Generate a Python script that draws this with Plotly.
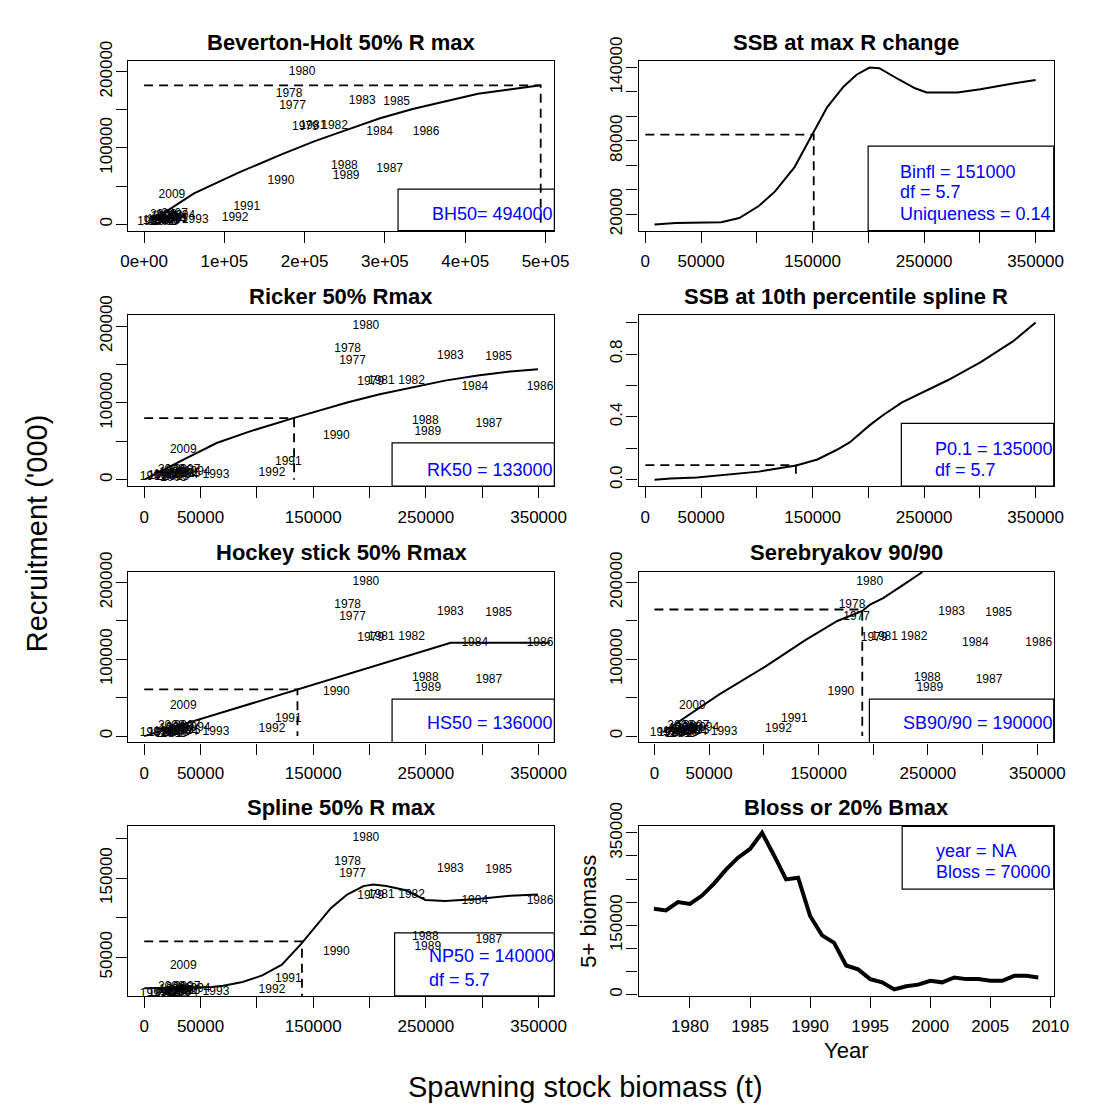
import plotly.graph_objects as go

FONT = "Liberation Sans, Arial, Helvetica, sans-serif"
W, H = 1102, 1114

# ---------------- data ----------------
years = list(range(1977, 2010))
ssb = [184900, 180600, 200900, 196800, 210400, 237300, 271700, 293400, 314600, 351300,
       305900, 249500, 251700, 170500, 127900, 113400, 63700,
       47000, 38000, 20000, 8000, 15000, 25000, 30000, 22000, 33000, 28000, 36000, 26000,
       31000, 38000, 24000, 34700]
rec = [154800, 170500, 127400, 200100, 129000, 129000, 161200, 120600, 159900, 120600,
       72400, 76200, 62700, 57100, 22500, 8900, 5600,
       10500, 7000, 5500, 3500, 4500, 9000, 6000, 3000, 8000, 4000, 5500, 2500,
       11000, 13000, 12500, 38600]

# Beverton-Holt fit
bh_s = [9000, 27700, 62200, 119100, 172000, 212600, 253300, 293900, 334500, 375200, 415900, 455000, 494000]
bh_r = [6500, 17000, 40600, 68400, 91900, 109000, 124000, 138900, 150900, 161100, 170900, 176500, 182000]
BH50, BH50_R = 494000, 182000

# spline (SSB at max R change)
sp2_s = [8200, 27200, 68100, 84200, 101700, 116300, 133800, 149900, 163100, 177700, 189400, 201000,
         209800, 227300, 241900, 252200, 279900, 300400, 329600, 350000]
sp2_r = [11500, 12800, 13400, 16800, 26600, 38600, 58500, 85600, 107600, 124300, 134100, 140000,
         139500, 130200, 123000, 119600, 119600, 122200, 127000, 129700]
BINFL, BINFL_R = 151000, 85000

# Ricker fit
rk_s = [600, 17950, 35300, 64300, 93200, 133800, 151100, 180100, 209000, 238000, 266900, 295900, 324800, 349400]
rk_r = [400, 14000, 26600, 47800, 62600, 80800, 88000, 100600, 111200, 119700, 129000, 135700, 140800, 143800]
RK50, RK50_R = 133000, 80300

# 10th percentile spline
p_s = [8200, 22800, 46200, 72500, 101700, 135300, 154300, 171800, 183500, 201000, 212700, 230200,
       250600, 271100, 300400, 329600, 350000]
p_v = [0.0, 0.008, 0.015, 0.031, 0.052, 0.091, 0.129, 0.191, 0.239, 0.346, 0.409, 0.492,
       0.564, 0.633, 0.747, 0.880, 1.0]
P01, P01_V = 135000, 0.093

# hockey stick
hs_s = [0, 272000, 360000]
hs_r = [0, 121400, 121400]
HS50, HS50_R = 136000, 60700

# Serebryakov
sb_s = [8000, 24900, 59300, 101300, 137200, 167200, 189600, 197100, 209100, 227100, 245000]
sb_r = [5000, 21200, 54400, 90400, 124400, 149900, 162600, 171100, 179600, 196600, 213600]
SB90, SB90_R = 190000, 164800

# spline 50% Rmax
np_s = [0, 60000, 70100, 87400, 104800, 122200, 139500, 151100, 165600, 180100, 194600, 203300,
        214800, 232200, 249600, 267000, 295900, 324900, 349400]
np_r = [10750, 12500, 14000, 18900, 27100, 40600, 67200, 87600, 112100, 129300, 139900, 142000,
        139900, 134600, 122400, 121100, 123600, 127700, 129300]
NP50, NP50_R = 140000, 70000

# 5+ biomass
bio_years = list(range(1977, 2010))
bio = [185600, 182100, 200300, 196100, 214300, 240200, 270300, 296200, 315100, 350100,
       301100, 249300, 252800, 170200, 128200, 112000, 63000, 54600, 33600, 26600,
       11200, 18200, 21700, 30100, 26600, 37100, 33600, 33600, 30100, 30100, 40600, 40600, 37100]

titles = ["Beverton-Holt 50% R max", "SSB at max R change", "Ricker 50% Rmax",
          "SSB at 10th percentile spline R", "Hockey stick 50% Rmax", "Serebryakov 90/90",
          "Spline 50% R max", "Bloss or 20% Bmax"]

# ---------------- layout geometry (pixels) ----------------
cols = [(123, 558), (644, 1068)]
rows = [(38, 212), (299, 474), (562, 737), (823, 997)]

fig = go.Figure()

def ax(i, kind):
    return (kind if i == 1 else f"{kind}{i}")

def add_text_points(i):
    fig.add_trace(go.Scatter(x=ssb, y=rec, text=[str(y) for y in years], mode="text",
                             textposition="middle center",
                             textfont=dict(family=FONT, size=12, color="black"),
                             xaxis=ax(i, "x"), yaxis=ax(i, "y"), showlegend=False,
                             cliponaxis=True, hoverinfo="skip"))

def add_line(i, xs, ys, width=2, dash=None):
    fig.add_trace(go.Scatter(x=xs, y=ys, mode="lines",
                             line=dict(color="black", width=width, dash=dash),
                             xaxis=ax(i, "x"), yaxis=ax(i, "y"), showlegend=False,
                             hoverinfo="skip"))

DASH = "9px,6px"

def add_ref(i, xv, yv, ybot=0):
    add_line(i, [0, xv, xv], [yv, yv, ybot], width=1.8, dash=DASH)

# panel 1
add_text_points(1)
add_line(1, bh_s, bh_r)
add_ref(1, BH50, BH50_R)
# panel 2
add_line(2, sp2_s, sp2_r)
add_ref(2, BINFL, BINFL_R)
# panel 3
add_text_points(3)
add_line(3, rk_s, rk_r)
add_ref(3, RK50, RK50_R)
# panel 4
add_line(4, p_s, p_v)
add_ref(4, P01, P01_V)
# panel 5
add_text_points(5)
add_line(5, hs_s, hs_r)
add_ref(5, HS50, HS50_R)
# panel 6
add_text_points(6)
add_line(6, sb_s, sb_r)
add_ref(6, SB90, SB90_R)
# panel 7
add_text_points(7)
add_line(7, np_s, np_r)
add_ref(7, NP50, NP50_R)
# panel 8
add_line(8, bio_years, bio, width=4)

# ---------------- axes ----------------
ssb_ticks = list(range(0, 350001, 50000))
ssb_text = ["0", "50000", "", "150000", "", "250000", "", "350000"]
r_ticks = [0, 50000, 100000, 150000, 200000]
r_text = ["0", "", "100000", "", "200000"]

axis_cfg = {
    1: dict(xr=[-19500, 511000], yr=[-8300, 213800],
            xt=[0, 100000, 200000, 300000, 400000, 500000],
            xl=["0e+00", "1e+05", "2e+05", "3e+05", "4e+05", "5e+05"],
            yt=r_ticks, yl=r_text),
    2: dict(xr=[-6100, 366200], yr=[6460, 145300], xt=ssb_ticks, xl=ssb_text,
            yt=[20000, 40000, 60000, 80000, 100000, 120000, 140000],
            yl=["20000", "", "", "80000", "", "", "140000"]),
    3: dict(xr=[-14000, 364000], yr=[-8300, 213800], xt=ssb_ticks, xl=ssb_text,
            yt=r_ticks, yl=r_text),
    4: dict(xr=[-6100, 366200], yr=[-0.04, 1.045], xt=ssb_ticks, xl=ssb_text,
            yt=[0, 0.2, 0.4, 0.6, 0.8, 1.0], yl=["0.0", "", "0.4", "", "0.8", ""]),
    5: dict(xr=[-14000, 364000], yr=[-8300, 213800], xt=ssb_ticks, xl=ssb_text,
            yt=r_ticks, yl=r_text),
    6: dict(xr=[-14500, 365000], yr=[-8300, 213800], xt=ssb_ticks, xl=ssb_text,
            yt=r_ticks, yl=r_text),
    7: dict(xr=[-14000, 364000], yr=[1200, 215400], xt=ssb_ticks, xl=ssb_text,
            yt=[50000, 100000, 150000, 200000], yl=["50000", "", "150000", ""]),
    8: dict(xr=[1975.72, 2010.28], yr=[-2800, 364100],
            xt=[1980, 1985, 1990, 1995, 2000, 2005, 2010],
            xl=["1980", "1985", "1990", "1995", "2000", "2005", "2010"],
            yt=list(range(0, 350001, 50000)),
            yl=["0", "", "", "150000", "", "", "", "350000"]),
}

common = dict(showline=True, linecolor="black", linewidth=1.2, mirror=True,
              ticks="outside", ticklen=11, tickwidth=1.2, tickcolor="black",
              showgrid=False, zeroline=False,
              tickfont=dict(family=FONT, size=17, color="black"))

layout = {}
for i in range(1, 9):
    c = cols[(i - 1) % 2]
    r = rows[(i - 1) // 2]
    cfg = axis_cfg[i]
    xdom = [c[0] / W, c[1] / W]
    ydom = [1 - r[1] / H, 1 - r[0] / H]
    layout["xaxis" if i == 1 else f"xaxis{i}"] = dict(
        domain=xdom, range=cfg["xr"], anchor=ax(i, "y"), tickmode="array",
        tickvals=cfg["xt"], ticktext=cfg["xl"], ticklabelstandoff=4, **common)
    layout["yaxis" if i == 1 else f"yaxis{i}"] = dict(
        domain=ydom, range=cfg["yr"], anchor=ax(i, "x"), tickmode="array",
        tickvals=cfg["yt"], ticktext=cfg["yl"], tickangle=-90,
        ticklabelstandoff=-2, **common)

fig.update_layout(**layout)

# ---------------- titles, legends ----------------
annotations = []
shapes = []
for i in range(1, 9):
    annotations.append(dict(text=f"<b>{titles[i-1]}</b>", xref=f"{ax(i,'x')} domain",
                            yref=f"{ax(i,'y')} domain", x=0.5, y=1, yshift=19,
                            xanchor="center", yanchor="middle", showarrow=False,
                            font=dict(family=FONT, size=22, color="black")))

# legend boxes: (panel, left, bottom, right, top) in domain fractions
legend_boxes = [(1, 0.633, 0.0, 1.0, 0.245), (2, 0.553, 0.0, 1.0, 0.499),
                (3, 0.619, 0.0, 1.0, 0.253), (4, 0.633, 0.0, 1.0, 0.368),
                (5, 0.619, 0.0, 1.0, 0.254), (6, 0.556, 0.0, 1.0, 0.254),
                (7, 0.625, 0.0, 1.0, 0.372), (8, 0.635, 0.63, 1.0, 1.0)]
for (i, x0, y0, x1, y1) in legend_boxes:
    shapes.append(dict(type="rect", xref=f"{ax(i,'x')} domain", yref=f"{ax(i,'y')} domain",
                       x0=x0, y0=y0, x1=x1, y1=y1, line=dict(color="black", width=1.2),
                       fillcolor="rgba(0,0,0,0)", layer="below"))

legend_texts = [
    (1, 0.709, [(0.10, "BH50= 494000")]),
    (2, 0.626, [(0.346, "Binfl = 151000"), (0.226, "df = 5.7"), (0.098, "Uniqueness = 0.14")]),
    (3, 0.697, [(0.097, "RK50 = 133000")]),
    (4, 0.709, [(0.22, "P0.1 = 135000"), (0.097, "df = 5.7")]),
    (5, 0.697, [(0.115, "HS50 = 136000")]),
    (6, 0.632, [(0.115, "SB90/90 = 190000")]),
    (7, 0.70, [(0.233, "NP50 = 140000"), (0.095, "df = 5.7")]),
    (8, 0.711, [(0.853, "year = NA"), (0.729, "Bloss = 70000")]),
]
for (i, xl, lines) in legend_texts:
    for (yy, t) in lines:
        annotations.append(dict(text=t, xref=f"{ax(i,'x')} domain", yref=f"{ax(i,'y')} domain",
                                x=xl, y=yy, xanchor="left", yanchor="middle", showarrow=False,
                                font=dict(family=FONT, size=18, color="blue")))

# axis labels for panel 8
annotations.append(dict(text="5+ biomass", xref="paper", yref="y8 domain", x=593 / W, y=0.5,
                        textangle=-90, xanchor="center", yanchor="middle", showarrow=False,
                        font=dict(family=FONT, size=22, color="black")))
annotations.append(dict(text="Year", xref="x8 domain", yref="paper", x=0.5, y=1 - 1053 / H,
                        xanchor="center", yanchor="middle", showarrow=False,
                        font=dict(family=FONT, size=22, color="black")))
# outer labels
annotations.append(dict(text="Recruitment ('000)", xref="paper", yref="paper", x=30 / W,
                        y=1 - 522 / H, textangle=-90, xanchor="center", yanchor="middle",
                        showarrow=False, font=dict(family=FONT, size=29, color="black")))
annotations.append(dict(text="Spawning stock biomass (t)", xref="paper", yref="paper",
                        x=590 / W, y=1 - 1090 / H, xanchor="center", yanchor="middle",
                        showarrow=False, font=dict(family=FONT, size=29, color="black")))

fig.update_layout(annotations=annotations, shapes=shapes, width=W, height=H,
                  margin=dict(l=0, r=0, t=0, b=0), paper_bgcolor="white",
                  plot_bgcolor="white", showlegend=False)

fig.write_html("out.html", config={"displayModeBar": False})
with open("out.html", "r", encoding="utf-8") as f:
    html = f.read()
html = html.replace("<body>", '<body style="margin:0;padding:0;overflow:hidden">', 1)
with open("out.html", "w", encoding="utf-8") as f:
    f.write(html)
